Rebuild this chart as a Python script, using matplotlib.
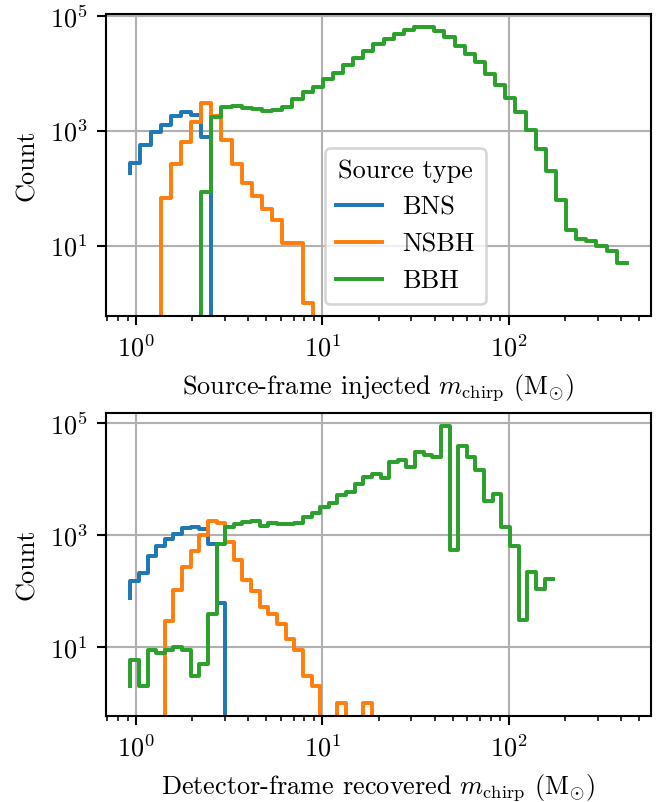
import matplotlib
matplotlib.use("Agg")
import matplotlib.pyplot as plt
import numpy as np
from matplotlib.ticker import FixedLocator, NullLocator, LogFormatterSciNotation

plt.rcParams['font.family'] = 'serif'
plt.rcParams['font.serif'] = ['cmr10']
plt.rcParams['mathtext.fontset'] = 'cm'
plt.rcParams['axes.formatter.use_mathtext'] = True
plt.rcParams['font.size'] = 10

source_types = ["BNS", "NSBH", "BBH"]
colors = ["tab:blue", "tab:orange", "tab:green"]

# chirp-mass grid of each panel (first point, last point, number of points)
inj_grid = (0.93, 430.0, 50)
rec_grid = (0.93, 173.0, 50)

# source-frame injected chirp mass counts
inj_bns = [183, 273, 570, 950, 1270, 1780, 2150, 1900, 795, 0,
           0, 0, 0, 0, 0, 0, 0, 0, 0, 0,
           0, 0, 0, 0, 0, 0, 0, 0, 0, 0,
           0, 0, 0, 0, 0, 0, 0, 0, 0, 0,
           0, 0, 0, 0, 0, 0, 0, 0, 0, 0]
inj_nsbh = [0, 0, 0, 0, 67, 262, 627, 1400, 3040, 1830,
            697, 262, 122, 73, 43, 28, 11, 11, 1, 0,
            0, 0, 0, 0, 0, 0, 0, 0, 0, 0,
            0, 0, 0, 0, 0, 0, 0, 0, 0, 0,
            0, 0, 0, 0, 0, 0, 0, 0, 0, 0]
inj_bbh = [0, 0, 0, 0, 0, 0, 0, 0, 87, 1730,
           2590, 2730, 2480, 2390, 2260, 2300, 2650, 3570, 4700, 5850,
           7900, 10000, 13800, 18600, 24300, 32300, 40000, 48800, 58000, 64000,
           65000, 55000, 43000, 30400, 21800, 15600, 9860, 6340, 3720, 2170,
           1040, 485, 203, 62, 19, 13, 12, 10, 8, 5]

# detector-frame recovered chirp mass counts
rec_bns = [74, 150, 210, 430, 630, 837, 1050, 1320, 1410, 1260,
           690, 61, 0, 0, 0, 0, 0, 0, 0, 0,
           0, 0, 0, 0, 0, 0, 0, 0, 0, 0,
           0, 0, 0, 0, 0, 0, 0, 0, 0, 0,
           0, 0, 0, 0, 0, 0, 0, 0, 0, 0]
rec_nsbh = [0, 0, 0, 0, 0, 29, 105, 265, 510, 1015,
            1800, 1630, 760, 362, 155, 100, 52, 39, 26, 14,
            9, 3, 2, 0, 0, 1, 0, 0, 1, 0,
            0, 0, 0, 0, 0, 0, 0, 0, 0, 0,
            0, 0, 0, 0, 0, 0, 0, 0, 0, 0]
rec_bbh = [2, 6, 2, 9, 8, 9, 10, 9, 3, 5,
           39, 690, 1390, 1570, 1730, 1780, 1450, 1660, 1550, 1550,
           1610, 2090, 2490, 3200, 3700, 5200, 5860, 8300, 10950, 12200,
           10600, 19800, 21600, 16500, 30300, 26700, 24700, 87500, 540, 38500,
           25200, 14400, 4050, 5300, 1370, 640, 31, 220, 108, 164]

x_labels = [r"Source-frame injected $m_{\mathrm{chirp}}$ (M$_{\odot}$)",
            r"Detector-frame recovered $m_{\mathrm{chirp}}$ (M$_{\odot}$)"]


def plot_chirp_histograms():
    """
    step histograms of chirp mass per source type
    """
    fig = plt.figure(figsize=(3.5, 4.24), dpi=189.2)

    panels = [(inj_grid, [inj_bns, inj_nsbh, inj_bbh], [0.1597, 0.6060, 0.8237, 0.3766], (0.594, 1.10e5)),
              (rec_grid, [rec_bns, rec_nsbh, rec_bbh], [0.1597, 0.1072, 0.8237, 0.3778], (0.59, 1.51e5))]

    for i, (grid, counts, rect, ylim) in enumerate(panels):
        ax = fig.add_axes(rect)
        mc = np.geomspace(grid[0], grid[1], grid[2])
        ax.set_xscale('log')
        ax.set_yscale('log')
        for name, c, color in zip(source_types, counts, colors):
            ax.step(mc, c, where='pre', color=color, lw=1.5, label=name)

        ax.set_xlim(0.687, 581)
        ax.set_ylim(ylim)
        ax.yaxis.set_major_locator(FixedLocator([1e1, 1e3, 1e5]))
        ax.yaxis.set_major_formatter(LogFormatterSciNotation())
        ax.yaxis.set_minor_locator(NullLocator())
        ax.grid(True, which='major', color='#b0b0b0', lw=0.8)
        ax.set_axisbelow(True)

        ax.set_xlabel(x_labels[i])
        ax.set_ylabel("Count")

        if i == 0:
            ax.legend(title="Source type", loc='lower left', handlelength=1.75,
                      bbox_to_anchor=(0.402, 0.040), borderaxespad=0)

    plt.savefig("out.png", dpi=189.2)
    print("saved out.png")


if __name__ == "__main__":
    plot_chirp_histograms()
